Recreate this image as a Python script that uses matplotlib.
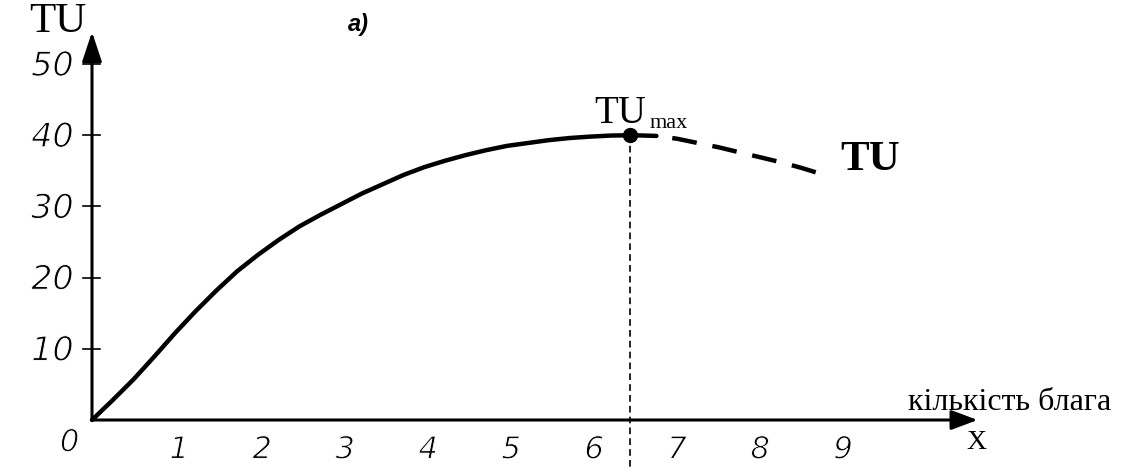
import matplotlib
matplotlib.use("Agg")
import matplotlib.pyplot as plt
import matplotlib.patheffects as pe

# Total utility curve
x_solid = [0, 0.25, 0.5, 0.75, 1, 1.25, 1.5, 1.75, 2, 2.25, 2.5, 2.75, 3, 3.25,
           3.5, 3.75, 4, 4.25, 4.5, 4.75, 5, 5.25, 5.5, 5.75, 6, 6.25, 6.5, 6.8]
tu_solid = [0, 2.8, 5.7, 8.9, 12.2, 15.3, 18.2, 20.9, 23.2, 25.3, 27.2, 28.8, 30.3, 31.8,
            33.1, 34.4, 35.5, 36.4, 37.2, 37.9, 38.5, 38.9, 39.3, 39.6, 39.8, 39.95, 40.0, 39.9]

# declining part after the maximum (dashed)
x_dash = [6.8, 7.05, 7.3, 7.55, 7.8, 8.05, 8.3, 8.55, 8.8]
tu_dash = [39.9, 39.5, 38.9, 38.3, 37.6, 36.9, 36.2, 35.4, 34.5]

# maximum point
x_max = 6.48
tu_max = 40

x_ticks = [1, 2, 3, 4, 5, 6, 7, 8, 9]
y_ticks = [10, 20, 30, 40, 50]

serif = "Liberation Serif"
# thin italic digits: erode the glyph edges a little with a white stroke
thin = [pe.Stroke(linewidth=0.7, foreground="white")]

fig = plt.figure(figsize=(11.33, 4.68), dpi=100)
ax = fig.add_axes([0, 0, 1, 1])
# origin at (92, 420) px, 83 px per x unit, 7.12 px per y unit
ax.set_xlim(-92 / 83, (1133 - 92) / 83)
ax.set_ylim(-48 / 7.12, 420 / 7.12)
ax.axis("off")

# axes with arrows
ax.annotate("", xy=(10.67, 0), xytext=(0, 0),
            arrowprops=dict(arrowstyle="-|>,head_length=0.8,head_width=0.3",
                            lw=2.2, color="black", mutation_scale=20, shrinkA=0, shrinkB=0))
ax.annotate("", xy=(0, 54.5), xytext=(0, 0),
            arrowprops=dict(arrowstyle="-|>,head_length=0.9,head_width=0.3",
                            lw=2.2, color="black", mutation_scale=20, shrinkA=0, shrinkB=0))

# y ticks and labels
for v in y_ticks:
    ax.plot([-0.11, 0.1], [v, v], color="black", lw=1.2)
    ax.text(-0.22, v - 0.3, str(v), ha="right", va="center", fontsize=24,
            style="italic", family="DejaVu Sans", color="black", path_effects=thin)

# x tick labels
ax.text(-0.27, -3.2, "0", ha="center", va="center", fontsize=22,
        style="italic", family="DejaVu Sans", color="black", path_effects=thin)
for v in x_ticks:
    ax.text(v + 0.05, -4.2, str(v), ha="center", va="center", fontsize=22,
            style="italic", family="DejaVu Sans", color="black", path_effects=thin)

# the curve
ax.plot(x_solid, tu_solid, color="black", lw=3.2, solid_capstyle="round",
        solid_joinstyle="round")
ax.plot(x_dash, tu_dash, color="black", lw=3.2, linestyle=(5.6, (5.6, 3.6)))
ax.plot([x_max], [tu_max], "o", color="black", markersize=10)
ax.plot([x_max, x_max], [tu_max, -7], color="black", lw=1.2, dashes=(4, 2.5))

# labels
ax.text(-0.41, 55.9, "TU", ha="center", va="center", fontsize=31, family=serif)
ax.text(3.21, 55.5, "a)", ha="center", va="center", fontsize=17,
        fontweight="bold", style="italic", family="Liberation Sans")
ax.text(6.36, 41.7, "TU", ha="center", va="baseline", fontsize=28, family=serif)
ax.text(6.72, 41.0, "max", ha="left", va="baseline", fontsize=16, family=serif)
ax.text(9.37, 36.5, "TU", ha="center", va="center", fontsize=31,
        fontweight="bold", family=serif)
ax.text(11.05, 2.5, "кількість блага", ha="center", va="center", fontsize=23, family=serif)
ax.text(10.66, -3.1, "X", ha="center", va="center", fontsize=20, family=serif)

fig.savefig("out.png", dpi=100)
